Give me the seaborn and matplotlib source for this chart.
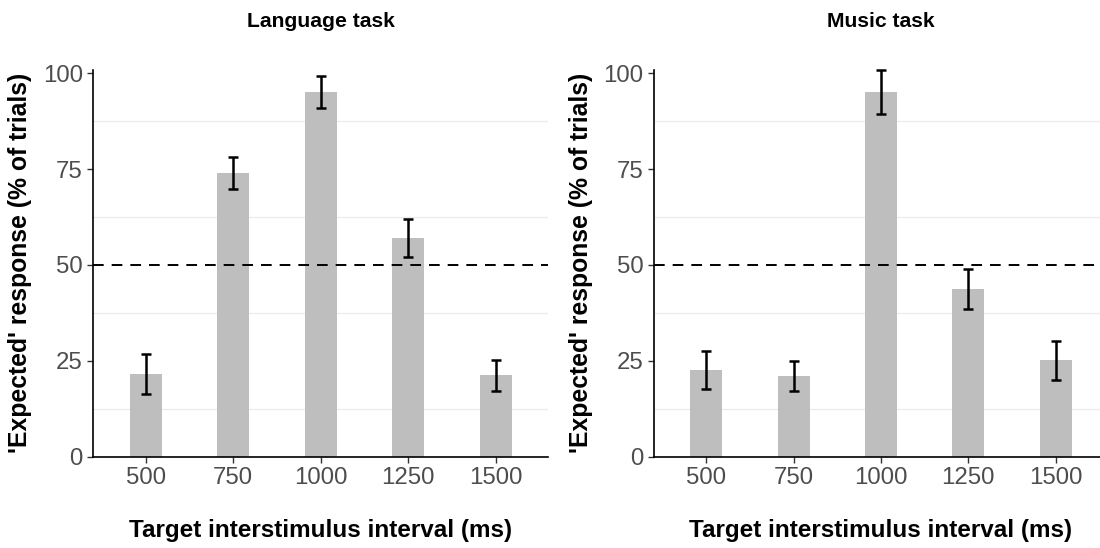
import matplotlib
matplotlib.use("Agg")
import matplotlib.pyplot as plt
import seaborn as sns
import numpy as np
import pandas as pd

intervals = ["500", "750", "1000", "1250", "1500"]
language_mean = [21.5, 74.0, 95.2, 57.0, 21.2]
language_se = [5.2, 4.2, 4.2, 5.0, 4.0]
music_mean = [22.5, 21.0, 95.2, 43.8, 25.1]
music_se = [5.0, 3.9, 5.8, 5.2, 5.0]
panel_titles = ["Language task", "Music task"]

sns.set_theme(style="white")
plt.rcParams["font.family"] = ["Liberation Sans", "DejaVu Sans"]

fig = plt.figure(figsize=(11, 5.48), dpi=100)
W, H = 1100, 548
# panel boxes in pixels: left, top, right, bottom
axes_px = [(93.3, 70.0, 548.0, 456.5), (654.0, 70.0, 1108.0, 456.5)]

panels = [(language_mean, language_se), (music_mean, music_se)]
for (x0, y0, x1, y1), (means, ses), title in zip(axes_px, panels, panel_titles):
    ax = fig.add_axes([x0 / W, 1 - y1 / H, (x1 - x0) / W, (y1 - y0) / H])
    df = pd.DataFrame({"interval": intervals, "pct": means, "se": ses})
    ax.set_axisbelow(True)
    for g in [12.5, 37.5, 62.5, 87.5]:
        ax.axhline(g, color="#EBEBEB", lw=0.9, zorder=0)
    sns.barplot(data=df, x="interval", y="pct", order=intervals,
                color="#BEBEBE", saturation=1, width=0.366, errorbar=None, ax=ax,
                zorder=1, linewidth=0)
    ax.errorbar(np.arange(len(intervals)), df["pct"], yerr=df["se"], fmt="none",
                ecolor="black", elinewidth=1.8, capsize=3.9, capthick=1.8, zorder=3,
                clip_on=False)
    ax.axhline(50, color="black", lw=1.4, ls=(0, (5.5, 4.1)), zorder=4)
    ax.set_xlim(-0.6, 4.6)
    ax.set_ylim(0, 100.9)
    ax.set_yticks([0, 25, 50, 75, 100])
    for side in ["top", "right"]:
        ax.spines[side].set_visible(False)
    for side in ["left", "bottom"]:
        ax.spines[side].set_color("black")
        ax.spines[side].set_linewidth(1.2)
    ax.tick_params(axis="both", which="major", length=4.5, width=1.0, color="#333333",
                   labelsize=17.3, labelcolor="#4D4D4D", bottom=True, left=True, pad=3)
    ax.set_xlabel("Target interstimulus interval (ms)", fontsize=17.5,
                  fontweight="bold", color="black")
    ax.set_ylabel("'Expected' response (% of trials)", fontsize=17.8,
                  fontweight="bold", color="black")
    ax.xaxis.set_label_coords(0.5, -0.163)
    ax.yaxis.set_label_coords(-0.134, 0.5)
    ax.set_title(title, fontsize=15.2, fontweight="bold", color="black", pad=31)

fig.savefig("out.png", dpi=100, facecolor="white")
